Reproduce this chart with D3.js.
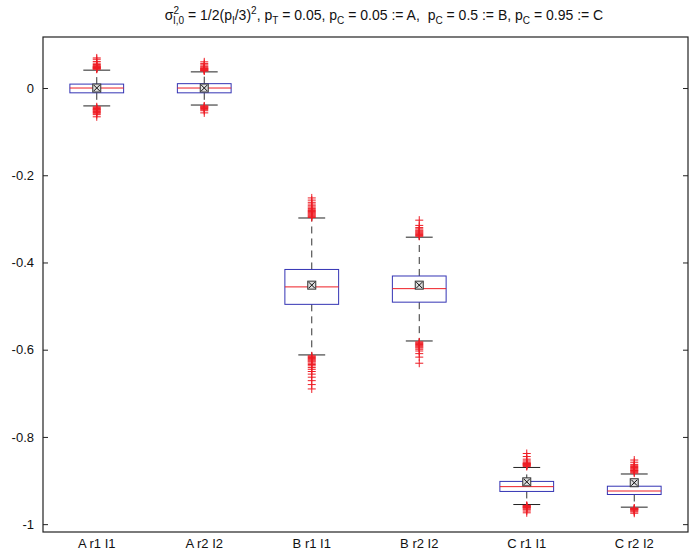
<!DOCTYPE html>
<html><head><meta charset="utf-8">
<script src="https://cdn.jsdelivr.net/npm/d3@7"></script>
<style>body{margin:0;background:#fff}svg{display:block}text{font-family:"Liberation Sans",Arial,sans-serif;fill:#111}</style>
</head><body><svg id="c" width="689" height="555"></svg>
<script>
const categories = ["A r1 I1", "A r2 I2", "B r1 I1", "B r2 I2", "C r1 I1", "C r2 I2"];
const q1 = [-0.011, -0.011, -0.496, -0.491, -0.925, -0.932];
const q3 = [0.009, 0.010, -0.416, -0.431, -0.902, -0.913];
const medians = [0.000, 0.000, -0.456, -0.460, -0.914, -0.924];
const means = [0.000, 0.000, -0.452, -0.452, -0.903, -0.905];
const whiskerLo = [-0.041, -0.039, -0.612, -0.580, -0.955, -0.961];
const whiskerHi = [0.041, 0.037, -0.298, -0.342, -0.870, -0.885];
const outliersHi = [
  [0.043, 0.044, 0.045, 0.046, 0.047, 0.048, 0.049, 0.050, 0.052, 0.054, 0.057, 0.061, 0.066, 0.069],
  [0.039, 0.040, 0.041, 0.042, 0.043, 0.044, 0.045, 0.046, 0.048, 0.050, 0.053, 0.056, 0.060],
  [-0.297, -0.295, -0.293, -0.291, -0.289, -0.287, -0.285, -0.283, -0.281, -0.279, -0.276, -0.273, -0.270, -0.266, -0.262, -0.257, -0.252],
  [-0.340, -0.338, -0.336, -0.334, -0.332, -0.330, -0.328, -0.326, -0.323, -0.320, -0.315, -0.303],
  [-0.868, -0.866, -0.865, -0.864, -0.863, -0.862, -0.861, -0.860, -0.858, -0.855, -0.851, -0.845, -0.838],
  [-0.883, -0.881, -0.879, -0.877, -0.876, -0.874, -0.872, -0.870, -0.868, -0.866, -0.863, -0.858, -0.853]
];
const outliersLo = [
  [-0.043, -0.045, -0.047, -0.049, -0.050, -0.052, -0.054, -0.056, -0.058, -0.061, -0.066],
  [-0.041, -0.042, -0.044, -0.045, -0.047, -0.049, -0.052, -0.057],
  [-0.614, -0.616, -0.618, -0.620, -0.622, -0.624, -0.626, -0.628, -0.631, -0.634, -0.637, -0.641, -0.645, -0.650, -0.656, -0.663, -0.671, -0.680, -0.690],
  [-0.582, -0.584, -0.586, -0.588, -0.590, -0.592, -0.594, -0.596, -0.599, -0.603, -0.609, -0.617, -0.631],
  [-0.957, -0.958, -0.959, -0.960, -0.961, -0.962, -0.963, -0.965, -0.967, -0.970, -0.974],
  [-0.963, -0.964, -0.965, -0.966, -0.967, -0.968, -0.970, -0.972, -0.975]
];
const yTicks = [0, -0.2, -0.4, -0.6, -0.8, -1];
const yTickLabels = ["0", "-0.2", "-0.4", "-0.6", "-0.8", "-1"];

const svg = d3.select("#c");
const L = 43, R = 688, T = 37, B = 532;
const x = d3.scaleLinear().domain([0.5, 6.5]).range([L, R]);
const y = d3.scaleLinear().domain([-1.018, 0.117]).range([B, T]);
const bw = 0.25, cw = 0.125;

svg.append("rect").attr("x", L).attr("y", T).attr("width", R - L).attr("height", B - T)
  .attr("fill", "none").attr("stroke", "#222").attr("stroke-width", 1.2);

const ya = svg.append("g").attr("transform", `translate(${L},0)`)
  .call(d3.axisLeft(y).tickValues(yTicks).tickFormat((d, i) => yTickLabels[i]).tickSizeInner(-5).tickSizeOuter(0).tickPadding(9));
ya.select(".domain").remove();
ya.selectAll("line").attr("stroke", "#222");
ya.selectAll("text").style("font-size", "13px").style("font-family", "Liberation Sans, Arial, sans-serif").attr("fill", "#111");
const yr = svg.append("g").attr("transform", `translate(${R},0)`)
  .call(d3.axisRight(y).tickValues(yTicks).tickFormat("").tickSizeInner(-5).tickSizeOuter(0));
yr.select(".domain").remove();
yr.selectAll("line").attr("stroke", "#222");

svg.append("g").selectAll("text").data(categories).join("text")
  .attr("x", (d, i) => x(i + 1)).attr("y", 548).attr("text-anchor", "middle")
  .style("font-size", "13px").text(d => d);

const g = svg.append("g");
categories.forEach((c, i) => {
  const cx = x(i + 1);
  const s = g.append("g");
  s.append("line").attr("x1", cx).attr("x2", cx).attr("y1", y(q3[i])).attr("y2", y(whiskerHi[i]))
    .attr("stroke", "#333").attr("stroke-dasharray", "7,5");
  s.append("line").attr("x1", cx).attr("x2", cx).attr("y1", y(q1[i])).attr("y2", y(whiskerLo[i]))
    .attr("stroke", "#333").attr("stroke-dasharray", "7,5");
  [whiskerHi[i], whiskerLo[i]].forEach(v => {
    s.append("line").attr("x1", x(i + 1 - cw)).attr("x2", x(i + 1 + cw)).attr("y1", y(v)).attr("y2", y(v))
      .attr("stroke", "#222");
  });
  s.append("rect").attr("x", x(i + 1 - bw)).attr("width", x(i + 1 + bw) - x(i + 1 - bw))
    .attr("y", y(q3[i])).attr("height", y(q1[i]) - y(q3[i]))
    .attr("fill", "none").attr("stroke", "#3434b4").attr("stroke-width", 1);
  s.append("line").attr("x1", x(i + 1 - bw)).attr("x2", x(i + 1 + bw)).attr("y1", y(medians[i])).attr("y2", y(medians[i]))
    .attr("stroke", "#ee1c24");
  outliersHi[i].concat(outliersLo[i]).forEach(v => {
    const py = y(v);
    s.append("path").attr("d", `M${cx - 4},${py}H${cx + 4}M${cx},${py - 4}V${py + 4}`)
      .attr("stroke", "#ee1c24").attr("stroke-width", 1).attr("fill", "none");
  });
  const my = y(means[i]);
  s.append("rect").attr("x", cx - 4).attr("y", my - 4).attr("width", 8).attr("height", 8)
    .attr("fill", "#ddd").attr("stroke", "#333");
  s.append("path").attr("d", `M${cx - 3},${my - 3}L${cx + 3},${my + 3}M${cx + 3},${my - 3}L${cx - 3},${my + 3}`)
    .attr("stroke", "#111").attr("stroke-width", 1);
});

const t = svg.append("text").attr("x", 384).attr("y", 20).attr("text-anchor", "middle")
  .style("font-size", "14px").style("white-space", "pre");
const parts = [
  ["σ", 0], ["2", -6, 10], ["I,0", 4, 10, true], [" = 1/2(p", 0], ["I", 4, 10], ["/3)", 0], ["2", -6, 10],
  [", p", 0], ["T", 4, 10], [" = 0.05, p", 0], ["C", 4, 10], [" = 0.05 := A,\u00a0 p", 0], ["C", 4, 10],
  [" = 0.5 := B, p", 0], ["C", 4, 10], [" = 0.95 := C", 0]
];
let cur = 0;
parts.forEach(p => {
  const ts = t.append("tspan").text(p[0]);
  ts.attr("dy", p[1] - cur);
  cur = p[1];
  if (p[2]) ts.style("font-size", p[2] + "px");
  if (p[3]) ts.attr("dx", -6);
});
</script></body></html>
